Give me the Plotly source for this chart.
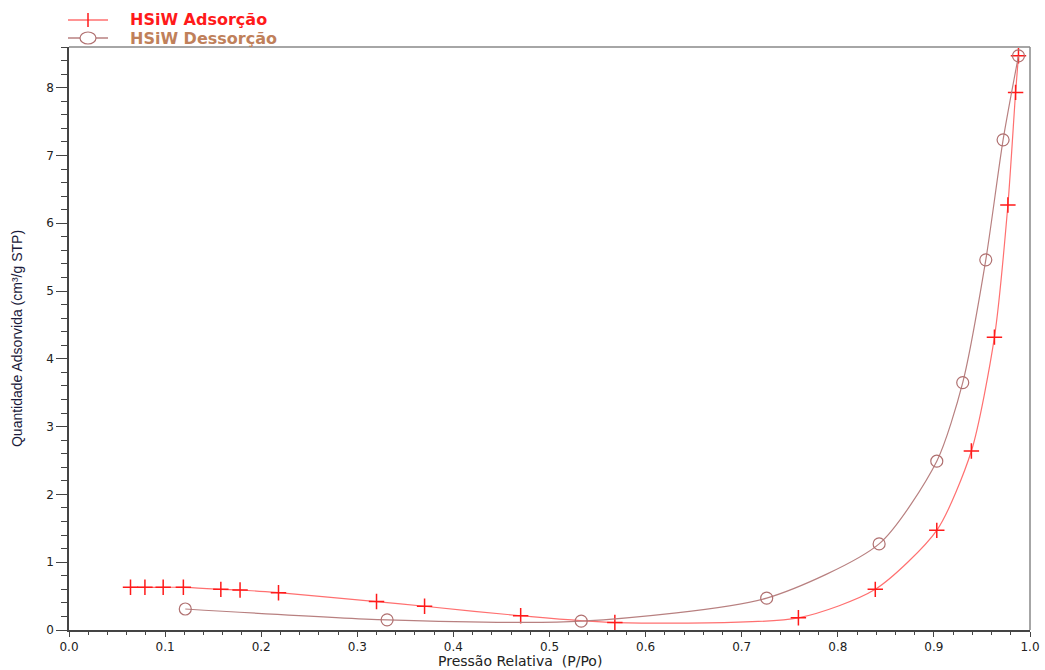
import plotly.graph_objects as go

# Adsorption branch
ads_x = [0.064, 0.079, 0.098, 0.119, 0.158, 0.178, 0.218, 0.320, 0.370, 0.470,
         0.568, 0.759, 0.839, 0.903, 0.939, 0.963, 0.977, 0.985, 0.988]
ads_y = [0.63, 0.63, 0.63, 0.63, 0.60, 0.59, 0.55, 0.42, 0.35, 0.21,
         0.11, 0.18, 0.60, 1.47, 2.64, 4.32, 6.27, 7.93, 8.47]

# Desorption branch
des_x = [0.988, 0.972, 0.954, 0.930, 0.903, 0.843, 0.726, 0.533, 0.331, 0.121]
des_y = [8.47, 7.23, 5.46, 3.65, 2.49, 1.27, 0.47, 0.13, 0.15, 0.31]

x_ticks = [0.0, 0.1, 0.2, 0.3, 0.4, 0.5, 0.6, 0.7, 0.8, 0.9, 1.0]
x_labels = ["0.0", "0.1", "0.2", "0.3", "0.4", "0.5", "0.6", "0.7", "0.8", "0.9", "1.0"]
y_ticks = [0, 1, 2, 3, 4, 5, 6, 7, 8]

series_names = ["HSiW Adsorção", "HSiW Dessorção"]
x_title = "Pressão Relativa  (P/Po)"
y_title = "Quantidade Adsorvida (cm³/g STP)"

RED = "#ff1a1a"
RED_LINE = "#ff7070"
BROWN = "#b07070"
BROWN_LINE = "#b88080"
RED_TEXT = "#ff1a1a"
BROWN_TEXT = "#c0805a"

W, H = 1045, 670
ML, MR, MT, MB = 69, 15, 47, 40
PW, PH = W - ML - MR, H - MT - MB


def px(xp):
    return (xp - ML) / PW


def py(yp):
    return (H - MB - yp) / PH


fig = go.Figure()
fig.add_trace(go.Scatter(
    x=ads_x, y=ads_y, mode="lines+markers", name=series_names[0],
    line=dict(color=RED_LINE, width=1.2, shape="spline", smoothing=0.7),
    marker=dict(symbol="cross-thin", size=11, color=RED,
                line=dict(color=RED, width=1.5)),
))
fig.add_trace(go.Scatter(
    x=des_x, y=des_y, mode="lines+markers", name=series_names[1],
    line=dict(color=BROWN_LINE, width=1.2, shape="spline", smoothing=0.7),
    marker=dict(symbol="circle-open", size=12, color=BROWN,
                line=dict(color=BROWN, width=1.2)),
))

font = "Liberation Sans, Arial, sans-serif"
fig.update_layout(
    width=W, height=H,
    margin=dict(l=ML, r=MR, t=MT, b=MB, autoexpand=False),
    paper_bgcolor="white", plot_bgcolor="white",
    font=dict(family=font, size=13, color="#222"),
    showlegend=False,
    xaxis=dict(range=[0, 1.0], tickvals=x_ticks, ticktext=x_labels,
               showgrid=False, zeroline=False, showline=True,
               linecolor="#444", linewidth=1.5,
               ticks="outside", ticklen=5, tickcolor="#444",
               tickfont=dict(family="DejaVu Sans, sans-serif", size=12),
               minor=dict(dtick=0.02, ticks="outside", ticklen=3, tickcolor="#444")),
    yaxis=dict(range=[0, 8.6], tickvals=y_ticks,
               showgrid=False, zeroline=False, showline=True,
               linecolor="#444", linewidth=1.5,
               ticks="outside", ticklen=11, tickcolor="#444",
               tickfont=dict(family="DejaVu Sans, sans-serif", size=12),
               minor=dict(dtick=0.2, ticks="outside", ticklen=6, tickcolor="#444"),
               title=dict(text=y_title, standoff=20,
                          font=dict(size=14, color="#1a1a3a"))),
)
# x-axis title as annotation (tight spacing like the reference)
fig.add_annotation(xref="paper", yref="paper", x=px(520), y=py(652),
                   xanchor="center", yanchor="top", showarrow=False,
                   borderpad=0, text=x_title,
                   font=dict(size=14, family="DejaVu Sans, sans-serif", color="#222"))

# top and right frame
fig.add_shape(type="line", xref="paper", yref="paper", x0=0, x1=1, y0=1, y1=1,
              line=dict(color="#888", width=1.5))
fig.add_shape(type="line", xref="paper", yref="paper", x0=1, x1=1, y0=0, y1=1,
              line=dict(color="#888", width=1.5))

# legend (drawn manually to match the reference's compact layout)
rows = [(20, RED_LINE, RED, RED_TEXT, "cross"), (38, BROWN_LINE, BROWN, BROWN_TEXT, "circle")]
for (yy, lc, mc, tc, sym), name in zip(rows, series_names):
    fig.add_shape(type="line", xref="paper", yref="paper",
                  x0=px(68), x1=px(108), y0=py(yy), y1=py(yy),
                  line=dict(color=lc, width=1.5))
    if sym == "cross":
        fig.add_shape(type="line", xref="paper", yref="paper",
                      x0=px(88), x1=px(88), y0=py(yy - 7), y1=py(yy + 7),
                      line=dict(color=mc, width=1.5))
    else:
        fig.add_shape(type="circle", xref="paper", yref="paper",
                      x0=px(80), x1=px(96), y0=py(yy - 6), y1=py(yy + 6),
                      line=dict(color=mc, width=1.2), fillcolor="white")
    fig.add_annotation(xref="paper", yref="paper", x=px(128), y=py(yy),
                       xanchor="left", yanchor="middle", showarrow=False,
                       text="<b>" + name + "</b>",
                       font=dict(size=16, family="DejaVu Sans, sans-serif", color=tc))

fig.write_html("out.html")
